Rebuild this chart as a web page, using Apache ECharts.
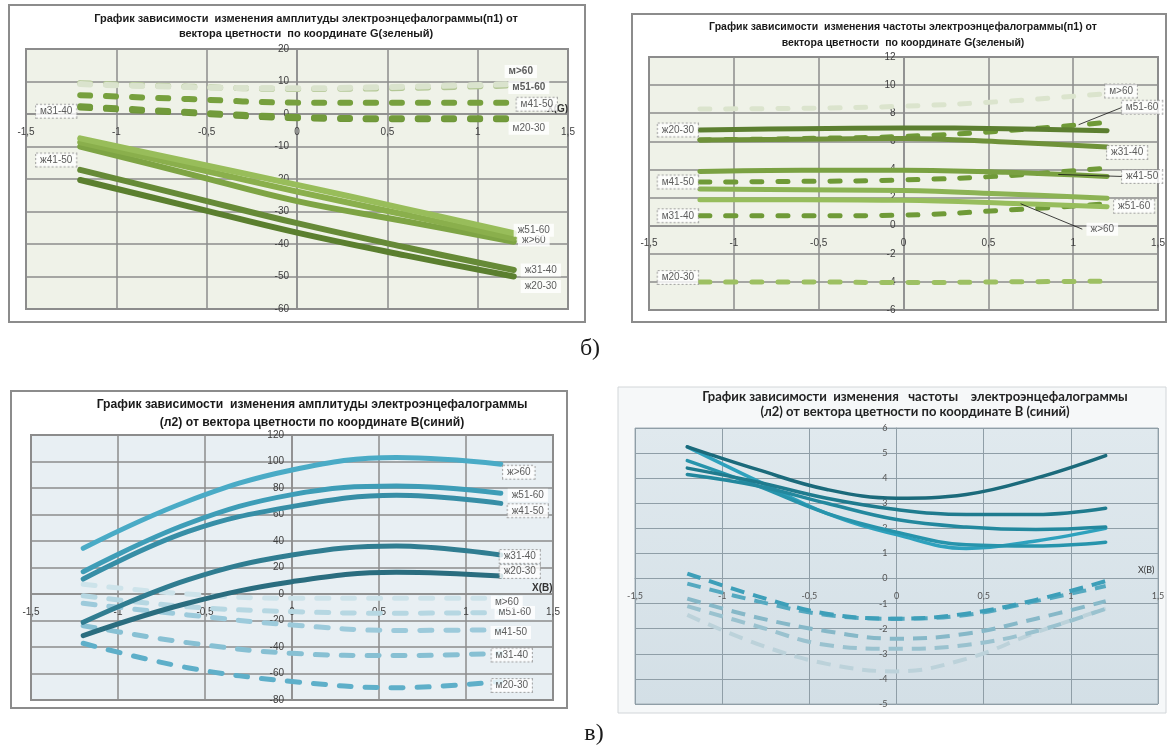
<!DOCTYPE html>
<html lang="ru">
<head>
<meta charset="utf-8">
<title>ЭЭГ и вектор цветности</title>
<script src="https://cdn.jsdelivr.net/npm/echarts@6.0.0/dist/echarts.min.js"></script>
<style>
html, body { margin: 0; padding: 0; background: #fff; }
#chart { width: 1168px; height: 747px; }
</style>
</head>
<body>
<div id="chart"></div>
<script>
// ---------- data ----------
// positions along the colour-vector coordinate where each curve is sampled
const xSamples = [-1.2, -0.6, 0, 0.6, 1.2];
const xSamplesB = [-1.2, -0.8, -0.4, 0, 0.4, 0.8, 1.2];

// axis ticks
const xTicks = [-1.5, -1, -0.5, 0, 0.5, 1, 1.5];
const ampGTicks = [-60, -50, -40, -30, -20, -10, 0, 10, 20];
const frqGTicks = [-6, -4, -2, 0, 2, 4, 6, 8, 10, 12];
const ampBTicks = [-80, -60, -40, -20, 0, 20, 40, 60, 80, 100, 120];
const frqBTicks = [-5, -4, -3, -2, -1, 0, 1, 2, 3, 4, 5, 6];

// amplitude (п1) vs G
const ampGNames = ['м20-30', 'м31-40', 'м41-50', 'м51-60', 'м>60', 'ж20-30', 'ж31-40', 'ж41-50', 'ж>60', 'ж51-60'];
const ampGValues = [
  [2.0, 0.3, -1.3, -1.6, -1.6],
  [2.4, 0.6, -0.9, -1.3, -1.3],
  [5.8, 4.6, 3.5, 3.5, 3.5],
  [9.5, 8.4, 7.7, 8.0, 8.8],
  [9.2, 8.3, 7.9, 8.4, 9.2],
  [-20.3, -28.4, -36.5, -43.5, -50],
  [-17.2, -25.4, -33.6, -41, -48],
  [-10, -18.4, -26.8, -33, -39.3],
  [-8.7, -16.3, -23.9, -31, -38.3],
  [-7.5, -14.7, -21.8, -29.2, -36.7]
];

// frequency (п1) vs G
const frqGNames = ['м>60', 'м51-60', 'м41-50', 'м31-40', 'м20-30', 'ж20-30', 'ж31-40', 'ж41-50', 'ж51-60', 'ж>60'];
const frqGValues = [
  [8.3, 8.35, 8.5, 8.85, 9.4],
  [6.1, 6.2, 6.35, 6.75, 7.35],
  [3.1, 3.15, 3.25, 3.55, 4.1],
  [0.7, 0.7, 0.75, 1.1, 1.55],
  [-4, -4, -4.05, -4, -3.95],
  [6.8, 6.9, 6.95, 6.9, 6.75],
  [6.1, 6.15, 6.2, 5.95, 5.6],
  [3.85, 3.95, 3.95, 3.8, 3.5],
  [2.6, 2.55, 2.5, 2.25, 1.95],
  [1.85, 1.85, 1.8, 1.6, 1.35]
];

// amplitude (л2) vs B
const ampBNames = ['м20-30', 'м31-40', 'м41-50', 'м51-60', 'м>60', 'ж>60', 'ж51-60', 'ж41-50', 'ж31-40', 'ж20-30'];
const ampBValues = [
  [-37.2, -55.6, -66, -70.7, -66],
  [-23.9, -36.7, -44.8, -46.5, -44.8],
  [-7, -15.8, -23.4, -27.5, -27],
  [-1.3, -9.6, -13.3, -14.5, -14],
  [7.3, 0, -3.3, -3.3, -3.3],
  [34.5, 70, 93.6, 103, 98],
  [16.8, 53, 75, 81.5, 76],
  [11.3, 47, 66, 74.5, 68.4],
  [-21.4, 10.6, 29.4, 36.2, 29.4],
  [-31.4, -7, 9.3, 16.5, 13.6]
];

// frequency (л2) vs B
const frqBNames = ['м>60', 'м51-60', 'м41-50', 'м31-40', 'м20-30', 'ж>60', 'ж51-60', 'ж41-50', 'ж31-40', 'ж20-30'];
const frqBValues = [
  [-1.45, -2.6, -3.4, -3.7, -3.2, -2.15, -1.2],
  [-1.1, -1.9, -2.65, -2.8, -2.65, -2.1, -1.2],
  [-0.8, -1.55, -2.1, -2.4, -2.2, -1.6, -0.9],
  [-0.2, -0.9, -1.45, -1.6, -1.45, -0.9, -0.3],
  [0.2, -0.7, -1.4, -1.6, -1.4, -0.85, -0.1],
  [5.25, 3.9, 2.6, 1.75, 1.2, 1.5, 2.0],
  [4.7, 3.7, 2.6, 1.85, 1.35, 1.3, 1.45],
  [4.15, 3.7, 3.0, 2.35, 2.05, 1.95, 2.05],
  [4.4, 3.85, 3.2, 2.75, 2.55, 2.55, 2.8],
  [5.25, 4.35, 3.55, 3.2, 3.35, 4.0, 4.9]
];

// ---------- colours ----------
const ampGColors = ['#6e9638', '#729b3b', '#77a03e', '#b3c795', '#dae3cd', '#5b7f2f', '#668a37', '#7ea444', '#8aaf4c', '#98bd5a'];
const frqGColors = ['#dbe4cd', '#6f9a37', '#6f9a37', '#6f9a37', '#9dc062', '#5c7f30', '#6f9239', '#7aa142', '#8cb354', '#97bd5c'];
const ampBColors = ['#5eafc9', '#87c0d3', '#9ccadb', '#b6d7e2', '#cde3ea', '#4aabc6', '#3e9db7', '#378ea6', '#307d91', '#2a6d7f'];
const frqBColors = ['#bcd2da', '#9ac2cf', '#86b8c8', '#55a9c0', '#3d9fb9', '#2ea1bd', '#2794ac', '#23889e', '#1f7b8e', '#1b6a7b'];

// ---------- label placement (offsets in px from the anchoring point) ----------
const ampGLabels = [
  { name: 'м>60', at: 4, dx: 7, dy: -12.5, bold: true },
  { name: 'м51-60', at: 4, dx: 15, dy: 2, bold: true },
  { name: 'м41-50', at: 4, dx: 23, dy: 1.5, dotted: true },
  { name: 'м20-30', at: 4, dx: 15, dy: 9 },
  { name: 'ж>60', at: 4, dx: 20, dy: 1.5 },
  { name: 'ж51-60', at: 4, dx: 20, dy: -3 },
  { name: 'ж31-40', at: 4, dx: 27, dy: 0 },
  { name: 'ж20-30', at: 4, dx: 27, dy: 10 },
  { name: 'м31-40', at: 0, dx: -24, dy: 5, dotted: true },
  { name: 'ж41-50', at: 0, dx: -24, dy: 13.5, dotted: true }
];
const frqGLabels = [
  { name: 'м>60', at: 4, dx: 14, dy: -2.5, dotted: true },
  { name: 'м51-60', at: 4, dx: 35, dy: -15, dotted: true, leader: [3, 0.72] },
  { name: 'ж31-40', at: 4, dx: 20, dy: 5.5, dotted: true },
  { name: 'ж41-50', at: 4, dx: 35, dy: 0, dotted: true, leader: [3, 0.52] },
  { name: 'ж51-60', at: 4, dx: 27, dy: 8, dotted: true },
  { name: 'ж>60', at: 3, dx: 97, dy: 26, leader: [3, 0.15] },
  { name: 'ж20-30', at: 0, dx: -22, dy: 0, dotted: true },
  { name: 'м41-50', at: 0, dx: -22, dy: 0, dotted: true },
  { name: 'м31-40', at: 0, dx: -22, dy: 0, dotted: true },
  { name: 'м20-30', at: 0, dx: -22, dy: -4.5, dotted: true }
];
const ampBLabels = [
  { name: 'ж>60', at: 4, dx: 18, dy: 8, dotted: true },
  { name: 'ж51-60', at: 4, dx: 27, dy: 2 },
  { name: 'ж41-50', at: 4, dx: 27, dy: 7.5, dotted: true },
  { name: 'ж31-40', at: 4, dx: 19, dy: 1.5, dotted: true },
  { name: 'ж20-30', at: 4, dx: 19, dy: -4.5, dotted: true },
  { name: 'м51-60', at: 4, dx: 14, dy: 0 },
  { name: 'м>60', at: 4, dx: 6, dy: 4 },
  { name: 'м41-50', at: 4, dx: 10, dy: 2.7 },
  { name: 'м31-40', at: 4, dx: 11, dy: 1.6, dotted: true },
  { name: 'м20-30', at: 4, dx: 11, dy: 4, dotted: true }
];

// ---------- layout ----------
const gridBoxes = [
  { left: 26, top: 49, width: 542, height: 260 },
  { left: 649, top: 57, width: 509, height: 253 },
  { left: 31, top: 435, width: 522, height: 265 },
  { left: 635, top: 428, width: 523, height: 276 }
];

// ---------- styles ----------
const SANS = '"Liberation Sans", Arial, sans-serif';
const CALI = 'Lato, "Noto Sans", "Open Sans", sans-serif';
const comma = v => String(v).replace('.', ',');

const excelStyle = { grid: '#8c8c8c', gridW: 1.5, fs: 10, text: '#404040', font: SANS, xMargin: 13, yMargin: 8 };
const caliStyle = { grid: '#8f9ea7', gridW: 1, fs: 9, text: '#555', font: CALI, xMargin: 13, yMargin: 9 };

const chart = echarts.init(document.getElementById('chart'), null, { renderer: 'canvas' });

// fraction of the way from min to max at which zero sits
const zeroFrac = ticks => (0 - ticks[0]) / (ticks[ticks.length - 1] - ticks[0]);

// the horizontal axis crosses at y = 0
function xAxisOf(gi, ticks, yTicks, st, name, nameGap, nameStyle) {
  return {
    type: 'value', gridIndex: gi, position: 'bottom',
    offset: -gridBoxes[gi].height * zeroFrac(yTicks),
    min: ticks[0], max: ticks[ticks.length - 1], interval: ticks[1] - ticks[0],
    axisLine: { show: true, onZero: false, lineStyle: { color: st.grid, width: st.gridW } },
    axisTick: { show: false },
    splitLine: { show: true, lineStyle: { color: st.grid, width: st.gridW } },
    axisLabel: { formatter: comma, fontSize: st.fs, color: st.text, fontFamily: st.font, margin: st.xMargin },
    name: name, nameLocation: 'end', nameGap: nameGap,
    nameTextStyle: Object.assign({ fontFamily: st.font, color: '#333', align: 'left' }, nameStyle)
  };
}
// the vertical axis crosses at x = 0
function yAxisOf(gi, ticks, xTk, st) {
  return {
    type: 'value', gridIndex: gi, position: 'left',
    offset: -gridBoxes[gi].width * zeroFrac(xTk),
    min: ticks[0], max: ticks[ticks.length - 1], interval: ticks[1] - ticks[0],
    axisLine: { show: true, onZero: false, lineStyle: { color: st.grid, width: st.gridW } },
    axisTick: { show: false },
    splitLine: { show: true, lineStyle: { color: st.grid, width: st.gridW } },
    axisLabel: { formatter: comma, fontSize: st.fs, color: st.text, fontFamily: st.font, margin: st.yMargin }
  };
}
function lineSeries(gi, xs, names, values, colors, ls) {
  return names.map((n, k) => {
    const dashed = n.startsWith('м');
    return {
      type: 'line', name: n, xAxisIndex: gi, yAxisIndex: gi,
      data: xs.map((x, i) => [x, values[k][i]]),
      smooth: ls.smooth, symbol: 'none', silent: true, z: 2, animation: false,
      lineStyle: {
        color: colors[k],
        width: dashed ? ls.dashW : ls.solidW,
        type: dashed ? ls.dash : 'solid',
        cap: dashed ? ls.dashCap : 'round',
        join: 'round'
      }
    };
  });
}
function labelSeries(gi, xs, names, values, placements) {
  return {
    type: 'scatter', xAxisIndex: gi, yAxisIndex: gi, silent: true, z: 10, animation: false,
    symbol: 'circle', symbolSize: 1, itemStyle: { color: 'rgba(0,0,0,0)' },
    data: placements.map(p => {
      const k = names.indexOf(p.name);
      return {
        value: [xs[p.at], values[k][p.at]],
        label: {
          show: true, formatter: p.name, position: 'inside', offset: [p.dx, p.dy],
          fontFamily: SANS, fontSize: 10, color: '#333', fontWeight: p.bold ? 'bold' : 'normal',
          backgroundColor: '#fff', padding: [2, 4, 1, 4],
          borderColor: '#9a9a9a', borderType: 'dotted', borderWidth: p.dotted ? 1 : 0
        }
      };
    })
  };
}

const solidDashExcel = { smooth: 0.4, solidW: 6, dashW: 6, dash: [10, 16], dashCap: 'round' };
const solidDashG2 = { smooth: 0.4, solidW: 5, dashW: 5, dash: [10, 16], dashCap: 'round' };
const solidDashB1 = { smooth: 0.4, solidW: 5, dashW: 5, dash: [12, 14], dashCap: 'round' };
const solidDashB2 = { smooth: 0.4, solidW: 3.5, dashW: 4, dash: [14, 9], dashCap: 'butt' };

const series = [].concat(
  lineSeries(0, xSamples, ampGNames, ampGValues, ampGColors, solidDashExcel),
  lineSeries(1, xSamples, frqGNames, frqGValues, frqGColors, solidDashG2),
  lineSeries(2, xSamples, ampBNames, ampBValues, ampBColors, solidDashB1),
  lineSeries(3, xSamplesB, frqBNames, frqBValues, frqBColors, solidDashB2),
  [
    labelSeries(0, xSamples, ampGNames, ampGValues, ampGLabels),
    labelSeries(1, xSamples, frqGNames, frqGValues, frqGLabels),
    labelSeries(2, xSamples, ampBNames, ampBValues, ampBLabels)
  ]
);

const gridBase = { show: true, borderColor: '#8c8c8c', borderWidth: 2, outerBoundsMode: 'none', containLabel: false };

chart.setOption({
  animation: false,
  grid: [
    Object.assign({ backgroundColor: '#eff2e8' }, gridBoxes[0], gridBase),
    Object.assign({ backgroundColor: '#eff2e8' }, gridBoxes[1], gridBase),
    Object.assign({ backgroundColor: '#e8eff3' }, gridBoxes[2], gridBase),
    Object.assign({}, gridBase, gridBoxes[3], {
      borderColor: '#a3afb6', borderWidth: 1,
      backgroundColor: new echarts.graphic.LinearGradient(0, 0, 0, 1, [
        { offset: 0, color: '#e0e9ee' }, { offset: 1, color: '#d3dfe6' }
      ])
    })
  ],
  xAxis: [
    xAxisOf(0, xTicks, ampGTicks, excelStyle, 'Х(G)', -21, { verticalAlign: 'bottom', fontWeight: 'bold', fontSize: 10 }),
    xAxisOf(1, xTicks, frqGTicks, excelStyle, 'Х(G)', -25, { verticalAlign: 'top', fontWeight: 'bold', fontSize: 10, padding: [5, 0, 0, 0] }),
    xAxisOf(2, xTicks, ampBTicks, excelStyle, 'X(B)', -21, { verticalAlign: 'bottom', fontWeight: 'bold', fontSize: 10, padding: [0, 0, 1, 0] }),
    xAxisOf(3, xTicks, frqBTicks, caliStyle, 'X(B)', -20, { verticalAlign: 'bottom', fontSize: 9, padding: [0, 0, 4, 0] })
  ],
  yAxis: [
    yAxisOf(0, ampGTicks, xTicks, excelStyle),
    yAxisOf(1, frqGTicks, xTicks, excelStyle),
    yAxisOf(2, ampBTicks, xTicks, excelStyle),
    yAxisOf(3, frqBTicks, xTicks, caliStyle)
  ],
  series: series
});

// leader lines from a point on a curve to its label box
function leaders(gi, xs, names, values, placements) {
  return placements.filter(p => p.leader).map(p => {
    const k = names.indexOf(p.name);
    const i = p.leader[0], t = p.leader[1];
    const a = chart.convertToPixel({ gridIndex: gi }, [xs[i], values[k][i]]);
    const b = chart.convertToPixel({ gridIndex: gi }, [xs[i + 1], values[k][i + 1]]);
    const anchor = chart.convertToPixel({ gridIndex: gi }, [xs[p.at], values[k][p.at]]);
    return {
      type: 'line', z: 5, silent: true,
      shape: {
        x1: a[0] + (b[0] - a[0]) * t, y1: a[1] + (b[1] - a[1]) * t,
        x2: anchor[0] + p.dx - 20, y2: anchor[1] + p.dy
      },
      style: { stroke: '#111', lineWidth: 0.8 }
    };
  });
}

const frames = [
  { type: 'rect', z: -1, silent: true, shape: { x: 9, y: 5, width: 576, height: 317 }, style: { fill: '#fff', stroke: '#8c8c8c', lineWidth: 2 } },
  { type: 'rect', z: -1, silent: true, shape: { x: 632, y: 14, width: 534, height: 308 }, style: { fill: '#fff', stroke: '#8c8c8c', lineWidth: 2 } },
  { type: 'rect', z: -1, silent: true, shape: { x: 11, y: 391, width: 556, height: 317 }, style: { fill: '#fff', stroke: '#8c8c8c', lineWidth: 2 } },
  { type: 'rect', z: -1, silent: true, shape: { x: 618, y: 387, width: 548, height: 326 }, style: { fill: '#f6f8f9', stroke: '#d2d6d9', lineWidth: 1 } }
];
const titleStyle = { fill: '#1a1a1a', align: 'center', verticalAlign: 'top', lineHeight: 15 };
const texts = [
  { type: 'text', z: 5, silent: true, x: 306, y: 11, style: Object.assign({}, titleStyle, { font: 'bold 11px ' + SANS, text: 'График зависимости  изменения амплитуды электроэнцефалограммы(п1) от\nвектора цветности  по координате G(зеленый)' }) },
  { type: 'text', z: 5, silent: true, x: 903, y: 19, style: Object.assign({}, titleStyle, { font: 'bold 10.5px ' + SANS, lineHeight: 16, text: 'График зависимости  изменения частоты электроэнцефалограммы(п1) от\nвектора цветности  по координате G(зеленый)' }) },
  { type: 'text', z: 5, silent: true, x: 312, y: 396, style: Object.assign({}, titleStyle, { font: 'bold 12.2px ' + SANS, lineHeight: 18, text: 'График зависимости  изменения амплитуды электроэнцефалограммы\n(л2) от вектора цветности по координате В(синий)' }) },
  { type: 'text', z: 5, silent: true, x: 915, y: 389, style: { font: 'bold 13px ' + CALI, fill: '#222', align: 'center', verticalAlign: 'top', lineHeight: 15, text: 'График зависимости  изменения   частоты    электроэнцефалограммы\n(л2) от вектора цветности по координате В (синий)' } },
  { type: 'text', z: 5, silent: true, x: 590, y: 349, style: { text: 'б)', font: '24px "Liberation Serif", "DejaVu Serif", serif', fill: '#1a1a1a', align: 'center', verticalAlign: 'middle' } },
  { type: 'text', z: 5, silent: true, x: 594, y: 734, style: { text: 'в)', font: '24px "Liberation Serif", "DejaVu Serif", serif', fill: '#1a1a1a', align: 'center', verticalAlign: 'middle' } }
];

chart.setOption({
  graphic: [{ elements: frames.concat(texts, leaders(1, xSamples, frqGNames, frqGValues, frqGLabels)) }]
});
</script>
</body>
</html>
